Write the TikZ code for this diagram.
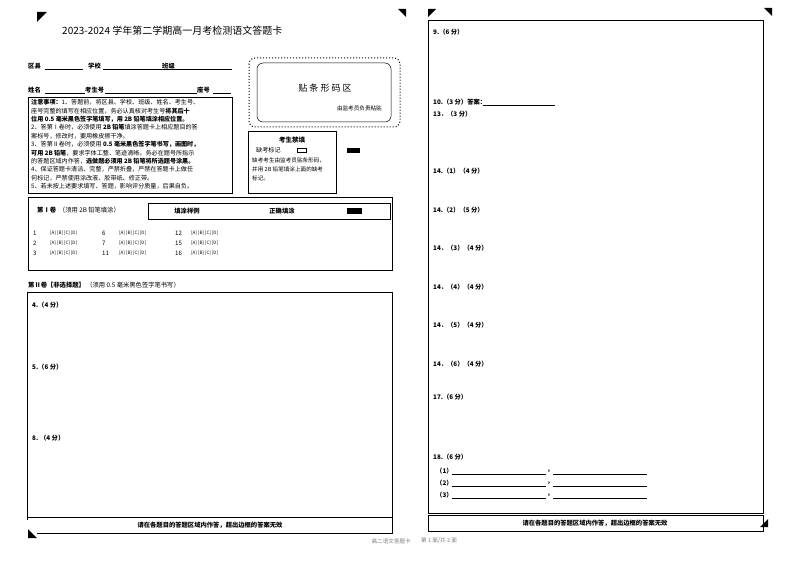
\documentclass[tikz,border=0pt]{standalone}
\usepackage{fontspec}
\setmainfont{Noto Sans CJK SC}
\begin{document}
\begin{tikzpicture}[x=1pt,y=-1pt,
  lbl/.style={anchor=west,inner sep=0pt,font=\fontsize{6.3}{7}\selectfont\bfseries},
  sm/.style={anchor=west,inner sep=0pt,font=\fontsize{5.6}{6}\selectfont},
  nt/.style={anchor=west,inner sep=0pt,font=\fontsize{6.1}{7}\selectfont},
  box/.style={draw,line width=0.8pt},
  cmark/.style={fill=black},
  uline/.style={line width=0.5pt}]
\useasboundingbox[fill=white] (0,0) rectangle (794,561);
% title
\node[anchor=west,inner sep=0pt,font=\fontsize{10}{12}\selectfont] (title) at (62,31) {2023-2024 学年第二学期高一月考检测语文答题卡};
% fields
\node[lbl] (qx) at (28,66) {区县};
\draw[uline] (45,69) -- (83,69);
\node[lbl] (xx) at (88,66) {学校};
\draw[uline] (103,69) -- (160,69);
\node[lbl] (bj) at (162,66) {班级};
\draw[uline] (160,69) -- (232,69);
\node[lbl] (xm) at (28,90) {姓名};
\draw[uline] (45,93) -- (85,93);
\node[lbl] (ksh) at (85,90) {考生号};
\draw[uline] (105,93) -- (197,93);
\node[lbl] (zh) at (197,90) {座号};
\draw[uline] (213,93) -- (231,93);
% notice box
\draw[box] (28,97) rectangle (232,193);
\foreach \t [count=\i] in {
{\textbf{注意事项：}1、答题前，将区县、学校、班级、姓名、考生号、},
{座号完整的填写在相应位置，务必认真核对考生号\textbf{将其后十}},
{\textbf{位用 0.5 毫米黑色签字笔填写，用 2B 铅笔填涂相应位置。}},
{2、答第Ⅰ卷时，必须使用 \textbf{2B 铅笔}填涂答题卡上相应题目的答},
{案标号，修改时，要用橡皮擦干净。},
{3、答第Ⅱ卷时，必须使用 \textbf{0.5 毫米黑色签字笔书写，画图时，}},
{\textbf{可用 2B 铅笔}，要求字体工整、笔迹清晰。务必在题号所指示},
{的答题区域内作答，\textbf{选做题必须用 2B 铅笔将所选题号涂黑。}},
{4、保证答题卡清洁、完整，严禁折叠，严禁在答题卡上做任},
{何标记，严禁使用涂改液、胶带纸、修正带。},
{5、若未按上述要求填写、答题，影响评分质量，后果自负。}}
  \node[nt] (n\i) at (31,{94+8.4*\i}) {\t};
% barcode
\draw[line width=1pt,dotted,rounded corners=6pt] (249,58) rectangle (400,127);
\draw[line width=0.5pt,rounded corners=6pt] (257,63) rectangle (391,122);
\node[inner sep=0pt,font=\fontsize{9}{10}\selectfont] (tm) at (325,88) {贴\ 条\ 形\ 码\ 区};
\node[sm,anchor=east] (yj) at (382,108) {由监考员负责粘贴};
% 考生禁填
\draw[box] (248,131) rectangle (336,193);
\node[inner sep=0pt,font=\fontsize{6.5}{7}\selectfont\bfseries] (jt) at (292,140) {考生禁填};
\node[nt] (qk) at (256,150) {缺考标记};
\draw[line width=0.5pt] (297,148) rectangle (306,152);
\node[sm] (q1) at (252,160) {缺考考生由监考员贴条形码，};
\node[sm] (q2) at (252,169) {并用 2B 铅笔填涂上面的缺考};
\node[sm] (q3) at (252,178) {标记。};
\fill (347,148) rectangle (360,153);
% section I
\draw[box] (28,197) rectangle (392,270);
\node[lbl] (s1) at (37,210) {第Ⅰ卷\ \ \mdseries（须用 2B 铅笔填涂）};
\draw[box] (148,203) rectangle (390,219);
\node[inner sep=0pt,font=\fontsize{6.3}{7}\selectfont\bfseries] (ty) at (187,211) {填涂样例};
\node[inner sep=0pt,font=\fontsize{6.3}{7}\selectfont\bfseries] (zq) at (282,211) {正确填涂};
\fill (347,208) rectangle (362,214);
\foreach \a/\b/\c [count=\r] in {1/6/12,2/7/15,3/11/16}{
  \node[nt] (a\r) at (33,{223+10*\r}) {\a};
  \node[nt] (b\r) at (102,{223+10*\r}) {\b};
  \node[nt] (c\r) at (175,{223+10*\r}) {\c};
  \foreach \x in {50,119,191}
    \node[sm,font=\fontsize{4.5}{5}\selectfont] at (\x,{223+10*\r}) {[A] [B] [C] [D]};
}
% section II
\node[lbl] (s2) at (28,285) {第Ⅱ卷【非选择题】 \mdseries（须用 0.5 毫米黑色签字笔书写）};
\draw[box] (27,292) rectangle (392,533);
\draw[box] (27,517) -- (392,517);
\draw[white,line width=2pt] (27,520) -- (27,534) (28,533) -- (37,533);
\node[inner sep=0pt,font=\fontsize{6.3}{7}\selectfont\bfseries] (f1) at (210,525) {请在各题目的答题区域内作答，超出边框的答案无效};
\node[lbl] (q4) at (32,305) {4.（4 分）};
\node[lbl] (q5) at (32,367) {5.（6 分）};
\node[lbl] (q8) at (32,438) {8. （4 分）};
\node[sm,anchor=east,gray] (ft1) at (411,541) {高二语文答题卡};
\node[sm,gray] (ft2) at (421,541) {第 1 面/共 2 面};
% right page
\draw[box] (428,20) rectangle (763,513);
\draw[box] (428,515) rectangle (763,531);
\node[inner sep=0pt,font=\fontsize{6.3}{7}\selectfont\bfseries] (f2) at (595,523) {请在各题目的答题区域内作答，超出边框的答案无效};
\node[lbl] (r9) at (433,32) {9.（6 分）};
\node[lbl] (r10) at (433,102) {10.（3 分）答案：};
\draw[uline] (483,105) -- (555,105);
\node[lbl] (r13) at (433,114) {13．（3 分）};
\node[lbl] (r141) at (433,171) {14.（1）（4 分）};
\node[lbl] (r142) at (433,210) {14.（2）（5 分）};
\node[lbl] (r143) at (433,248) {14．（3）（4 分）};
\node[lbl] (r144) at (433,287) {14．（4）（4 分）};
\node[lbl] (r145) at (433,325) {14．（5）（4 分）};
\node[lbl] (r146) at (433,364) {14．（6）（4 分）};
\node[lbl] (r17) at (433,397) {17.（6 分）};
\node[lbl] (r18) at (433,457) {18.（6 分）};
\foreach \k/\y in {1/471,2/483,3/495}{
  \node[lbl] (p\k) at (436,\y) {（\k）};
  \draw[uline] (452,{\y+3}) -- (546,{\y+3});
  \node[lbl] at (547,\y) {，};
  \draw[uline] (553,{\y+3}) -- (647,{\y+3});
}
% corner marks
\fill[cmark] (37,12) -- (47,12) -- (37,22) -- cycle;
\fill[cmark] (398,9) -- (406,9) -- (406,17) -- cycle;
\fill[cmark] (428,9) -- (436,9) -- (428,17) -- cycle;
\fill[cmark] (764,8) -- (772,8) -- (772,16) -- cycle;
\fill[cmark] (28,529) -- (28,538) -- (37,538) -- cycle;
\fill[cmark] (768,519) -- (768,527) -- (760,527) -- cycle;
\end{tikzpicture}
\end{document}
